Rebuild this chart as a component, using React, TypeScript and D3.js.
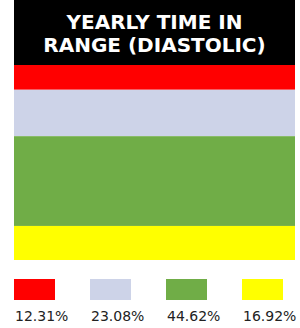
import * as d3 from 'd3';
import React from 'react';

// Chart data
const categories = ["High", "Elevated", "In Range", "Low"];
const counts = [8, 15, 29, 11];
const percentLabels = ["12.31%", "23.08%", "44.62%", "16.92%"];
const colors = ["#ff0000", "#cdd3e8", "#70ad47", "#ffff00"];
const titleLines = ["YEARLY TIME IN", "RANGE (DIASTOLIC)"];

export default function App() {
    const width = 300;
    const height = 328;
    const left = 14;
    const right = 295;
    const headerH = 65;
    const stackBottom = 260;

    // stacked segments, top to bottom
    const total = d3.sum(counts);
    const y = d3.scaleLinear().domain([0, total]).range([headerH, stackBottom]);
    const starts = d3.cumsum([0, ...counts]);

    // legend positions
    const legendX = d3.scaleBand().domain(categories).range([left, left + 76 * categories.length]);

    return (
        <svg width={width} height={height} style={{ position: "absolute", left: 0, top: 0 }}
            fontFamily="DejaVu Sans, sans-serif">
            <rect x={left} y={0} width={right - left} height={headerH} fill="#000" />
            {titleLines.map((t, i) => (
                <text key={t} x={(left + right) / 2} y={29 + i * 23} textAnchor="middle"
                    fill="#fff" fontWeight="bold" fontSize={20}>{t}</text>
            ))}

            {counts.map((c, i) => (
                <rect key={categories[i]} x={left} width={right - left}
                    y={y(starts[i])} height={y(starts[i] + c) - y(starts[i])}
                    fill={colors[i]} />
            ))}

            {categories.map((c, i) => (
                <g key={c} transform={`translate(${legendX(c)},0)`}>
                    <rect x={0} y={279} width={41} height={21} fill={colors[i]} />
                    <text x={1} y={321} fontSize={14} fill="#222">{percentLabels[i]}</text>
                </g>
            ))}
        </svg>
    );
}
